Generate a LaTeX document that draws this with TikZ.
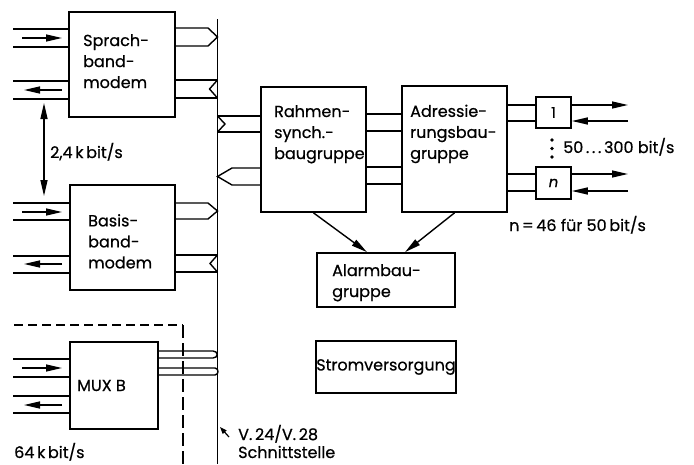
\documentclass[tikz,border=0pt]{standalone}
\usepackage{fontspec}
\setmainfont{Poppins}[FakeBold=0.6]
\usetikzlibrary{arrows.meta,calc}
\begin{document}
\begin{tikzpicture}[x=1pt,y=-1pt,
  box/.style={draw,line width=1.7pt,inner sep=0pt},
  ln/.style={line width=1.4pt},
  tip/.style={line width=1.4pt,-{Triangle[length=16pt,width=7pt]}},
  dtip/.style={line width=1.4pt,{Triangle[length=16pt,width=7pt]}-{Triangle[length=16pt,width=7pt]}},
  txt/.style={font=\fontsize{16}{21}\selectfont,align=left,inner sep=0pt,anchor=north west},
  lbl/.style={font=\fontsize{16}{21}\selectfont,inner sep=0pt,anchor=base west},
]
\useasboundingbox (0,0) rectangle (694,464);

% bus
\coordinate (bt) at (217.5,19);
\coordinate (bb) at (217.5,464);
\draw[ln] (bt) -- (bb);

% boxes
\node[box,minimum width=106pt,minimum height=105pt] (sb) at (122,64.5) {};
\node[box,minimum width=105pt,minimum height=105pt] (bm) at (122.5,237.5) {};
\node[box,minimum width=88pt,minimum height=87pt] (mux) at (114,385.5) {};
\node[box,minimum width=105pt,minimum height=125pt] (rs) at (313.5,149.5) {};
\node[box,minimum width=105pt,minimum height=126pt] (ad) at (454.5,149) {};
\node[box,minimum width=35pt,minimum height=31pt] (b1) at (553.5,112.5) {};
\node[box,minimum width=35pt,minimum height=32pt] (bn) at (553.5,183) {};
\node[box,minimum width=138pt,minimum height=54pt] (al) at (386,280) {};
\node[box,minimum width=140pt,minimum height=52pt] (sv) at (386,367) {};

% box texts
\node[txt] (tsb) at (83,34) {Sprach-\\band-\\modem};
\node[txt] (tbm) at (88,214) {Basis-\\band-\\modem};
\node[txt] (trs) at (274,105) {Rahmen-\\synch.-\\baugruppe};
\node[txt] (tad) at (410,104.5) {Adressie-\\rungsbau-\\gruppe};
\node[txt] (tal) at (332,264) {Alarmbau-\\gruppe};
\node[font=\fontsize{16}{21}\selectfont,inner sep=0pt] (tsv) at (sv.center) {Stromversorgung};
\node[lbl] (tmux) at (77,391) {MUX B};
\node[font=\fontsize{15}{18}\selectfont,inner sep=0pt] (t1) at (b1.center) {1};
\node[font=\fontsize{15}{18}\selectfont\itshape,inner sep=0pt] (tn) at (bn.center) {n};

% labels
\node[lbl] (l24) at (50,158) {2,4\,k\,bit/s};
\node[lbl] (l64) at (14,458) {64\,k\,bit/s};
\node[lbl] (lv) at (238,440) {V.\,24/V.\,28};
\node[lbl] (ls) at (238,458) {Schnittstelle};
\node[lbl] (l50) at (563,153) {50\,.\,.\,.\,300 bit/s};
\node[lbl] (ln46) at (509,231) {n\,=\,46 für 50\,bit/s};

% left-side lines: Sprachbandmodem
\foreach \y in {29,47,81,99} \draw[ln] (13,\y) -- (sb.west|-0,\y);
\draw[tip] (22,38) -- (62,38);
\draw[tip] (62,90) -- (24,90);
% Basisbandmodem
\foreach \y in {203,220,256,273} \draw[ln] (13,\y) -- (bm.west|-0,\y);
\draw[tip] (22,212) -- (62,212);
\draw[tip] (62,264) -- (24,264);
% MUX B
\foreach \y in {359,377,396,413} \draw[ln] (13,\y) -- (mux.west|-0,\y);
\draw[tip] (22,368) -- (62,368);
\draw[tip] (62,405) -- (24,405);

% double arrow between modems
\coordinate (da1) at (44,103);
\coordinate (da2) at (44,196);
\draw[dtip] (da1) -- (da2);

% Sprachbandmodem to bus
\draw[ln] (sb.east|-0,28) -- (208,28) -- (bt|-0,37) -- (208,46) -- (sb.east|-0,46);
\draw[ln] (sb.east|-0,80) -- (bt|-0,80);
\draw[ln] (sb.east|-0,98) -- (bt|-0,98);
\draw[ln] (bt|-0,80) -- (209.5,89) -- (bt|-0,98);
% Basisbandmodem to bus
\draw[ln] (bm.east|-0,203) -- (208,203) -- (bt|-0,211) -- (208,219) -- (bm.east|-0,219);
\draw[ln] (bm.east|-0,255) -- (bt|-0,255);
\draw[ln] (bm.east|-0,272) -- (bt|-0,272);
\draw[ln] (bt|-0,255) -- (210,263.5) -- (bt|-0,272);
% MUX B to bus
\draw[ln] (mux.east|-0,351) -- (213,351) .. controls (218.5,351) and (218.5,358) .. (213,358) -- (mux.east|-0,358);
\draw[ln] (mux.east|-0,368) -- (215,368) .. controls (219,368) and (219,375) .. (215,375) -- (mux.east|-0,375);
% dashed boundary
\draw[ln,dash pattern=on 9pt off 5pt] (14,325) -- (183,325);
\draw[ln,dash pattern=on 13pt off 5pt] (183,325) -- (183,464);

% Rahmen to bus
\draw[ln] (bt|-0,116) -- (rs.west|-0,116);
\draw[ln] (bt|-0,132) -- (rs.west|-0,132);
\draw[ln] (bt|-0,116) -- (225,124) -- (bt|-0,132);
\draw[ln] (rs.west|-0,168) -- (232,168) -- (bt|-0,176.5) -- (232,185) -- (rs.west|-0,185);

% Rahmen to Adress
\foreach \y in {114,131,167,184} \draw[ln] (rs.east|-0,\y) -- (ad.west|-0,\y);
% Adress to channel boxes
\foreach \y in {105,121} \draw[ln] (ad.east|-0,\y) -- (b1.west|-0,\y);
\foreach \y in {174,191} \draw[ln] (ad.east|-0,\y) -- (bn.west|-0,\y);
\coordinate (o1) at (628,105);
\coordinate (i1) at (628,121);
\coordinate (on) at (628,174);
\coordinate (in) at (628,191);
\draw[tip] (b1.east|-o1) -- (o1);
\draw[tip] (i1) -- (b1.east|-i1);
\draw[tip] (bn.east|-on) -- (on);
\draw[tip] (in) -- (bn.east|-in);
% dots
\foreach \y in {140,148.5,157} \fill (552,\y) circle (1.8pt);

% to Alarm
\draw[tip] (rs.south) -- ($(al.north)+(-19,0)$);
\draw[tip] (ad.south) -- ($(al.north)+(19,0)$);

% V.24 pointer
\coordinate (vp) at (220,427);
\draw[line width=1.2pt,-{Triangle[length=7pt,width=5pt]}] (229,437) -- (vp);
\end{tikzpicture}
\end{document}
